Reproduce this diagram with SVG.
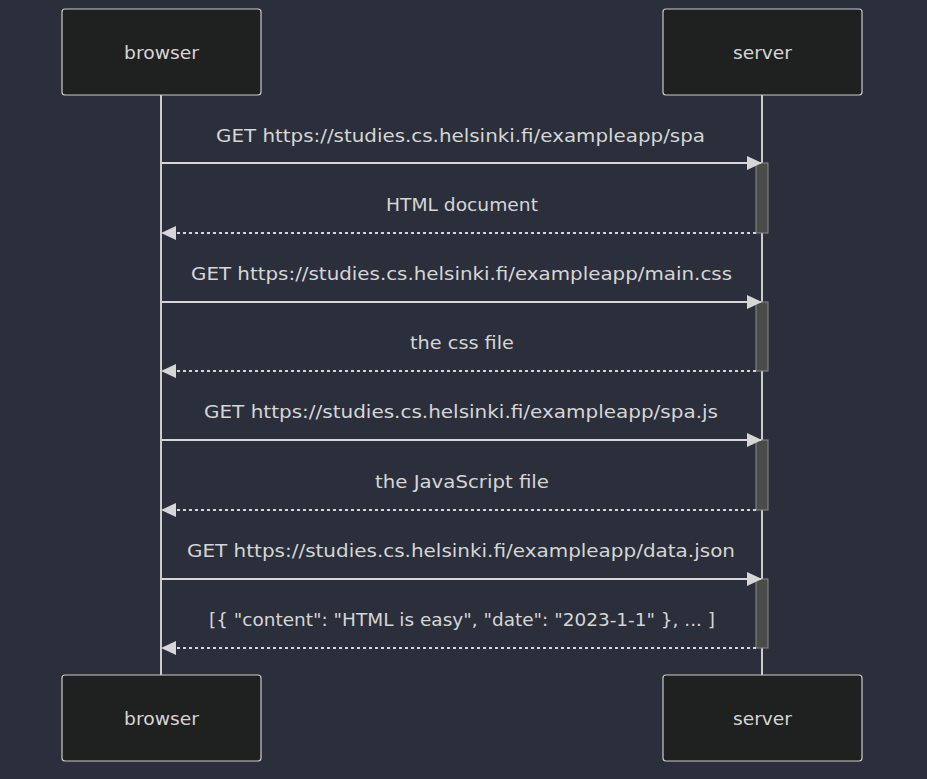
<svg xmlns="http://www.w3.org/2000/svg" width="927" height="779" viewBox="0 0 927 779">
  <style>
    .actor rect { fill: #1f2020; stroke: #cccccc; stroke-width: 1.2; }
    .actor text, .msg { font-family: "DejaVu Sans", "Liberation Sans", sans-serif; font-size: 18px; fill: #d6d6d6; text-anchor: middle; }
    .lifeline { stroke: #cccccc; stroke-width: 2; }
    .call { stroke: #d6d6d6; stroke-width: 2; fill: none; }
    .reply { stroke: #d6d6d6; stroke-width: 2; fill: none; stroke-dasharray: 3 3; }
    .act { fill: #4a4c49; stroke: #8a8a8a; stroke-width: 1; }
  </style>
  <defs>
    <marker id="arrowhead" viewBox="0 0 15 14" refX="14" refY="7" markerWidth="15" markerHeight="14" markerUnits="userSpaceOnUse" orient="auto">
      <path d="M0,0 L15,7 L0,14 z" fill="#d6d6d6"/>
    </marker>
  </defs>
  <rect width="927" height="779" fill="#2a2f3b"/>

  <g id="lifelines">
    <line class="lifeline" x1="161" y1="95" x2="161" y2="675"/>
    <line class="lifeline" x1="762" y1="95" x2="762" y2="675"/>
  </g>

  <g id="activations">
    <rect class="act" x="756" y="163" width="12" height="70"/>
    <rect class="act" x="756" y="302" width="12" height="69"/>
    <rect class="act" x="756" y="440" width="12" height="70"/>
    <rect class="act" x="756" y="579" width="12" height="69"/>
  </g>

  <g id="browser-top" class="actor">
    <rect x="62" y="9" width="199" height="86" rx="3"/>
    <text x="161.5" y="59" textLength="75" lengthAdjust="spacingAndGlyphs">browser</text>
  </g>
  <g id="server-top" class="actor">
    <rect x="663" y="9" width="199" height="86" rx="3"/>
    <text x="762.5" y="59" textLength="59" lengthAdjust="spacingAndGlyphs">server</text>
  </g>
  <g id="browser-bottom" class="actor">
    <rect x="62" y="675" width="199" height="86" rx="3"/>
    <text x="161.5" y="725" textLength="75" lengthAdjust="spacingAndGlyphs">browser</text>
  </g>
  <g id="server-bottom" class="actor">
    <rect x="663" y="675" width="199" height="86" rx="3"/>
    <text x="762.5" y="725" textLength="59" lengthAdjust="spacingAndGlyphs">server</text>
  </g>

  <g id="connectors">
    <line class="call" x1="162" y1="163" x2="761" y2="163" marker-end="url(#arrowhead)"/>
    <line class="reply" x1="756" y1="233" x2="162" y2="233" marker-end="url(#arrowhead)"/>
    <line class="call" x1="162" y1="302" x2="761" y2="302" marker-end="url(#arrowhead)"/>
    <line class="reply" x1="756" y1="371" x2="162" y2="371" marker-end="url(#arrowhead)"/>
    <line class="call" x1="162" y1="440" x2="761" y2="440" marker-end="url(#arrowhead)"/>
    <line class="reply" x1="756" y1="510" x2="162" y2="510" marker-end="url(#arrowhead)"/>
    <line class="call" x1="162" y1="579" x2="761" y2="579" marker-end="url(#arrowhead)"/>
    <line class="reply" x1="756" y1="648" x2="162" y2="648" marker-end="url(#arrowhead)"/>
  </g>

  <g id="messages">
    <text class="msg" x="460.5" y="142" textLength="489" lengthAdjust="spacingAndGlyphs">GET https://studies.cs.helsinki.fi/exampleapp/spa</text>
    <text class="msg" x="462" y="211" textLength="152" lengthAdjust="spacingAndGlyphs">HTML document</text>
    <text class="msg" x="461.5" y="280" textLength="541" lengthAdjust="spacingAndGlyphs">GET https://studies.cs.helsinki.fi/exampleapp/main.css</text>
    <text class="msg" x="462" y="349" textLength="104" lengthAdjust="spacingAndGlyphs">the css file</text>
    <text class="msg" x="461" y="418" textLength="514" lengthAdjust="spacingAndGlyphs">GET https://studies.cs.helsinki.fi/exampleapp/spa.js</text>
    <text class="msg" x="462" y="488" textLength="174" lengthAdjust="spacingAndGlyphs">the JavaScript file</text>
    <text class="msg" x="461" y="557" textLength="548" lengthAdjust="spacingAndGlyphs">GET https://studies.cs.helsinki.fi/exampleapp/data.json</text>
    <text class="msg" x="462" y="626" textLength="506" lengthAdjust="spacingAndGlyphs">[{ "content": "HTML is easy", "date": "2023-1-1" }, ... ]</text>
  </g>
</svg>
